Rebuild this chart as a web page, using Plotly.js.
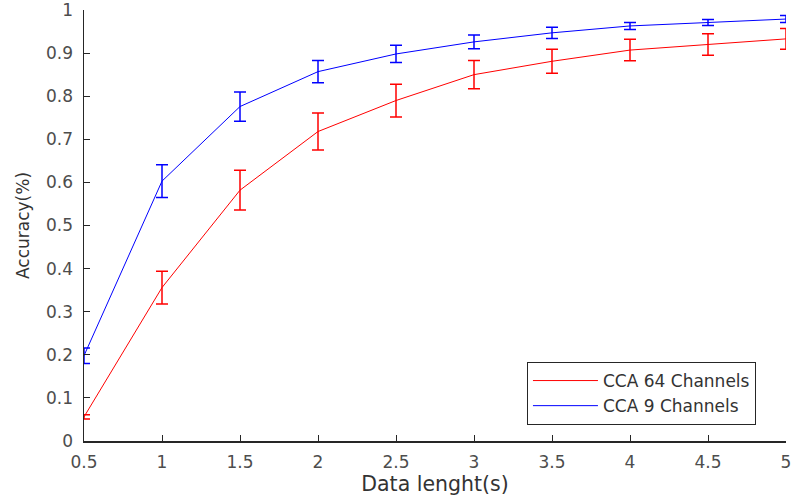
<!DOCTYPE html>
<html>
<head>
<meta charset="utf-8">
<script src="https://cdn.plot.ly/plotly-3.0.1.min.js"></script>
<style>html,body{margin:0;padding:0;background:#fff;}#chart{width:793px;height:499px;}</style>
</head>
<body>
<div id="chart"></div>
<script>
const dataLength = [0.5, 1, 1.5, 2, 2.5, 3, 3.5, 4, 4.5, 5];
const cca64 = [0.056, 0.356, 0.582, 0.718, 0.790, 0.850, 0.881, 0.907, 0.920, 0.933];
const cca64Err = [0.005, 0.038, 0.046, 0.043, 0.038, 0.033, 0.028, 0.025, 0.025, 0.024];
const cca9 = [0.198, 0.603, 0.776, 0.857, 0.898, 0.926, 0.947, 0.963, 0.971, 0.979];
const cca9Err = [0.018, 0.038, 0.034, 0.026, 0.020, 0.016, 0.013, 0.008, 0.007, 0.008];
const seriesNames = ["CCA 64 Channels", "CCA 9 Channels"];
const xTicks = [0.5, 1, 1.5, 2, 2.5, 3, 3.5, 4, 4.5, 5];
const yTicks = [0, 0.1, 0.2, 0.3, 0.4, 0.5, 0.6, 0.7, 0.8, 0.9, 1];

const traces = [
  {x: dataLength, y: cca64, name: seriesNames[0], type: 'scatter', mode: 'lines',
   line: {color: '#ff0000', width: 1},
   error_y: {type: 'data', array: cca64Err, visible: true, color: '#ff0000', thickness: 1.5, width: 6}},
  {x: dataLength, y: cca9, name: seriesNames[1], type: 'scatter', mode: 'lines',
   line: {color: '#0000ff', width: 1},
   error_y: {type: 'data', array: cca9Err, visible: true, color: '#0000ff', thickness: 1.5, width: 6}}
];

const FAM = 'DejaVu Sans, Verdana, sans-serif';
const axisFont = {family: FAM, size: 17, color: '#4d4d4d'};
const layout = {
  width: 793, height: 499,
  margin: {l: 84, r: 7, t: 10, b: 58},
  paper_bgcolor: '#ffffff', plot_bgcolor: '#ffffff',
  showlegend: true,
  xaxis: {
    range: [0.5, 5], tickvals: xTicks, ticktext: xTicks.map(String),
    showline: true, linecolor: '#262626', linewidth: 1.5, mirror: false,
    ticks: 'inside', ticklen: 6, tickcolor: '#262626', tickwidth: 1,
    ticklabelstandoff: 5, ticklabeloverflow: 'allow',
    showgrid: false, zeroline: false, tickfont: axisFont,
    title: {text: 'Data lenght(s)', font: {family: FAM, size: 20.5, color: '#333333'}, standoff: 3}
  },
  yaxis: {
    range: [0, 1], tickvals: yTicks, ticktext: yTicks.map(String),
    showline: true, linecolor: '#262626', linewidth: 1.5, mirror: false,
    ticks: 'inside', ticklen: 6, tickcolor: '#262626', tickwidth: 1,
    ticklabelstandoff: 6, ticklabeloverflow: 'allow',
    showgrid: false, zeroline: false, tickfont: axisFont,
    title: {text: 'Accuracy(%)', font: {family: FAM, size: 17, color: '#333333'}, standoff: 12}
  },
  legend: {
    x: 0.631, y: 0.1833, xanchor: 'left', yanchor: 'top',
    bgcolor: '#ffffff', bordercolor: '#262626', borderwidth: 1,
    font: {family: FAM, size: 17, color: '#333333'},
    tracegroupgap: 0, itemwidth: 65
  }
};
Plotly.newPlot('chart', traces, layout, {displayModeBar: false, staticPlot: true});
</script>
</body>
</html>
